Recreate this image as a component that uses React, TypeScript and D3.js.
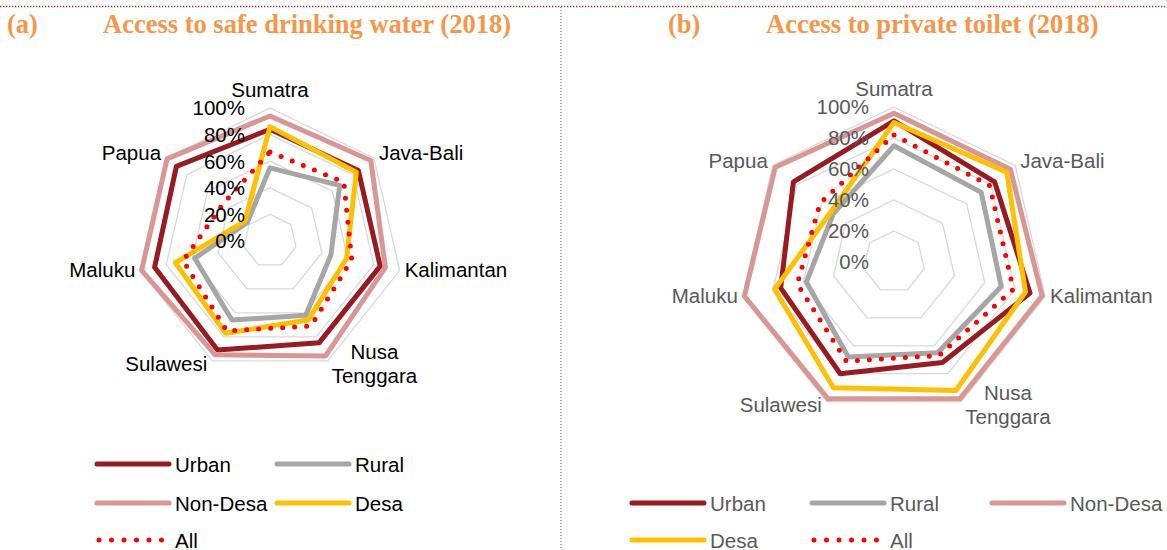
import * as d3 from 'd3'

const categories = ['Sumatra', 'Java-Bali', 'Kalimantan', 'Nusa Tenggara', 'Sulawesi', 'Maluku', 'Papua']
const seriesNames = ['Urban', 'Rural', 'Non-Desa', 'Desa', 'All']
const tickValues = [0, 20, 40, 60, 80, 100]
const tickLabels = ['0%', '20%', '40%', '60%', '80%', '100%']

// (a) access to safe drinking water, % of households
const waterUrban = [84, 85, 85, 85, 91, 89, 90]
const waterRural = [55, 67, 47, 62, 66, 58, 22]
const waterNonDesa = [94, 97, 89, 96, 95, 99, 99]
const waterDesa = [86, 83, 59, 66, 77, 73, 24]
const waterAll = [67, 71, 63, 71, 75, 67, 45]

// (b) access to private toilet
const toiletUrban = [91, 83, 90, 72, 80, 75, 83]
const toiletRural = [75, 72, 71, 65, 68, 58, 50]
const toiletNonDesa = [96, 96, 98, 98, 98, 99, 98]
const toiletDesa = [90, 93, 87, 92, 90, 79, 52]
const toiletAll = [82, 79, 79, 67, 71, 64, 61]

const colors: Record<string, string> = {
  Urban: '#991b21',
  Rural: '#a6a6a6',
  'Non-Desa': '#d99694',
  Desa: '#ffc000',
  All: '#ff0000',
}

const FONT = '"Liberation Sans", Arial, sans-serif'
const FS = 20.5

function textWidth(s: string) {
  const ctx = document.createElement('canvas').getContext('2d')
  if (!ctx) return s.length * FS * 0.55
  ctx.font = `${FS}px "Liberation Sans"`
  return ctx.measureText(s).width
}

interface RadarProps {
  cx: number
  cy: number
  radius: number
  series: number[][]
  textColor: string
}

function Radar({ cx, cy, radius, series, textColor }: RadarProps) {
  const r = d3.scaleLinear().domain([0, 100]).range([0, radius])
  const step = (2 * Math.PI) / categories.length
  const line = d3
    .lineRadial<number>()
    .angle((_, i) => i * step)
    .radius((d) => r(d))
    .curve(d3.curveLinearClosed)

  const grid = tickValues.filter((t) => t > 0)

  return (
    <g transform={`translate(${cx},${cy})`}>
      {grid.map((t) => (
        <path key={t} d={line(categories.map(() => t)) || ''} fill="none" stroke="#d9d9d9" strokeWidth={1.3} />
      ))}
      {series.map((vals, k) => {
        const name = seriesNames[k]
        const dotted = name === 'All'
        return (
          <path
            key={name}
            d={line(vals) || ''}
            fill="none"
            stroke={colors[name]}
            strokeWidth={5}
            strokeLinejoin="round"
            strokeLinecap="round"
            strokeDasharray={dotted ? '0 12' : undefined}
          />
        )
      })}
      {tickValues.map((t, i) => (
        <text key={t} x={-25} y={-r(t)} dy="0.36em" textAnchor="end" fontFamily={FONT} fontSize={FS} fill={textColor}>
          {tickLabels[i]}
        </text>
      ))}
      {categories.map((c, i) => {
        const a = i * step
        const vx = Math.sin(a) * r(100)
        const vy = -Math.cos(a) * r(100)
        if (i === 0) {
          return (
            <text key={c} x={vx} y={vy - 11} textAnchor="middle" fontFamily={FONT} fontSize={FS} fill={textColor}>
              {c}
            </text>
          )
        }
        const words = c.split(' ')
        if (words.length > 1) {
          const w = Math.max(...words.map(textWidth))
          const left = vx > 0 ? vx + 4 : vx - 4 - w
          return (
            <text key={c} textAnchor="middle" fontFamily={FONT} fontSize={FS} fill={textColor}>
              {words.map((wd, j) => (
                <tspan key={wd} x={left + w / 2} y={vy - 2 + j * 24}>
                  {wd}
                </tspan>
              ))}
            </text>
          )
        }
        const base = 5.5 - 5 * Math.cos(a)
        return (
          <text
            key={c}
            x={vx > 0 ? vx + 5 : vx - 5}
            y={vy + base}
            textAnchor={vx > 0 ? 'start' : 'end'}
            fontFamily={FONT}
            fontSize={FS}
            fill={textColor}
          >
            {c}
          </text>
        )
      })}
    </g>
  )
}

interface LegendProps {
  items: { name: string; x: number; y: number }[]
  textColor: string
}

function Legend({ items, textColor }: LegendProps) {
  return (
    <g>
      {items.map(({ name, x, y }) => {
        const dotted = name === 'All'
        return (
          <g key={name}>
            <line
              x1={dotted ? x + 2 : x}
              x2={dotted ? x + 66 : x + 72}
              y1={y}
              y2={y}
              stroke={colors[name]}
              strokeWidth={5}
              strokeLinecap="round"
              strokeDasharray={dotted ? '0 12.5' : undefined}
            />
            <text x={x + 78} y={y + 7.5} fontFamily={FONT} fontSize={FS} fill={textColor}>
              {name}
            </text>
          </g>
        )
      })}
    </g>
  )
}

const titleStyle = {
  fontFamily: '"Liberation Serif", "Times New Roman", serif',
  fontWeight: 700,
  fontSize: 26.5,
  fill: '#f79646',
}

export default function App() {
  const legendA = [
    { name: 'Urban', x: 97, y: 464 },
    { name: 'Rural', x: 277, y: 464 },
    { name: 'Non-Desa', x: 97, y: 503 },
    { name: 'Desa', x: 277, y: 503 },
    { name: 'All', x: 97, y: 540 },
  ]
  const legendB = [
    { name: 'Urban', x: 632, y: 503 },
    { name: 'Rural', x: 812, y: 503 },
    { name: 'Non-Desa', x: 992, y: 503 },
    { name: 'Desa', x: 632, y: 540 },
    { name: 'All', x: 812, y: 540 },
  ]

  return (
    <div style={{ position: 'absolute', left: 0, top: 0, width: 1167, height: 550, background: '#fff' }}>
      <svg width={1167} height={550} style={{ display: 'block' }}>
        <line x1={0} x2={1167} y1={6.5} y2={6.5} stroke="#a8282d" strokeWidth={1.3} strokeDasharray="1.3 1.7" />
        <line x1={561} x2={561} y1={7} y2={550} stroke="#555" strokeWidth={1} strokeDasharray="1 2" />

        <text x={7} y={33} {...titleStyle}>(a)</text>
        <text x={103} y={33} {...titleStyle}>Access to safe drinking water (2018)</text>
        <text x={668} y={33} {...titleStyle}>(b)</text>
        <text x={766} y={33} {...titleStyle}>Access to private toilet (2018)</text>

        <Radar
          cx={270}
          cy={241}
          radius={133}
          series={[waterUrban, waterRural, waterNonDesa, waterDesa, waterAll]}
          textColor="#000"
        />
        <Radar
          cx={894}
          cy={262}
          radius={155}
          series={[toiletUrban, toiletRural, toiletNonDesa, toiletDesa, toiletAll]}
          textColor="#595959"
        />

        <Legend items={legendA} textColor="#000" />
        <Legend items={legendB} textColor="#595959" />
      </svg>
    </div>
  )
}
